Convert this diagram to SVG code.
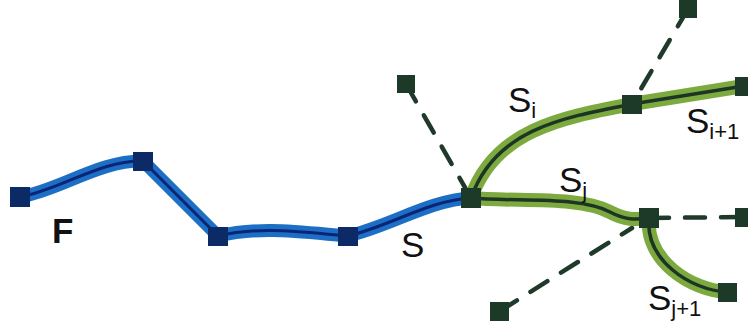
<svg xmlns="http://www.w3.org/2000/svg" width="748" height="329" viewBox="0 0 748 329">
  <style>
    .blue-out { fill: none; stroke: #1d6fc6; stroke-width: 13; stroke-linejoin: round; stroke-linecap: round; }
    .blue-in { fill: none; stroke: #0a2575; stroke-width: 3; stroke-linejoin: round; }
    .green-out { fill: none; stroke: #7daa3e; stroke-width: 14; stroke-linejoin: round; stroke-linecap: round; }
    .green-in { fill: none; stroke: #1c3524; stroke-width: 3.5; stroke-linejoin: round; }
    .dash { fill: none; stroke: #1f3a2a; stroke-width: 4.5; stroke-dasharray: 20 16; stroke-linecap: round; }
    .nb { fill: #0b2a66; }
    .ng { fill: #1d3a29; }
    .lbl { font-family: "Liberation Sans", Arial, sans-serif; fill: #111; font-size: 35px; }
    .sub { font-size: 22px; }
  </style>

  <g id="connectors">
    <!-- dashed links -->
    <path class="dash" d="M406,84 L471,198"/>
    <path class="dash" d="M688,9 L632,104"/>
    <path class="dash" d="M649,218 L744,217"/>
    <path class="dash" d="M500,311 L632,228"/>

    <!-- F / S blue segment -->
    <path class="blue-out" d="M20,197 C60,190 100,160 143,161 L218,236 C260,226 300,232 348,236 C390,226 430,200 471,198"/>
    <path class="blue-in" d="M20,197 C60,190 100,160 143,161 L218,236 C260,226 300,232 348,236 C390,226 430,200 471,198"/>

    <!-- Si, Si+1 -->
    <path class="green-out" d="M471,198 C495,130 560,118 632,104 L744,86"/>
    <path class="green-in" d="M471,198 C495,130 560,118 632,104 L744,86"/>

    <!-- Sj -->
    <path class="green-out" d="M471,198 C520,202 580,196 610,212 C625,220 635,220 649,218"/>
    <path class="green-in" d="M471,198 C520,202 580,196 610,212 C625,220 635,220 649,218"/>

    <!-- Sj+1 -->
    <path class="green-out" d="M649,218 C645,260 690,290 727,292"/>
    <path class="green-in" d="M649,218 C645,260 690,290 727,292"/>
  </g>

  <g id="n1"><rect class="nb" x="10" y="187" width="20" height="20"/></g>
  <g id="n2"><rect class="nb" x="133" y="152" width="20" height="19"/></g>
  <g id="n3"><rect class="nb" x="208" y="227" width="20" height="19"/></g>
  <g id="n4"><rect class="nb" x="338" y="227" width="20" height="19"/></g>
  <g id="n5"><rect class="ng" x="461" y="188" width="20" height="20"/></g>
  <g id="n6"><rect class="ng" x="397" y="75" width="18" height="18"/></g>
  <g id="n7"><rect class="ng" x="622" y="95" width="20" height="19"/></g>
  <g id="n8"><rect class="ng" x="679" y="0" width="18" height="18"/></g>
  <g id="n9"><rect class="ng" x="735" y="77" width="18" height="19"/></g>
  <g id="n10"><rect class="ng" x="639" y="208" width="20" height="20"/></g>
  <g id="n11"><rect class="ng" x="735" y="208" width="18" height="19"/></g>
  <g id="n12"><rect class="ng" x="490" y="302" width="19" height="19"/></g>
  <g id="n13"><rect class="ng" x="718" y="283" width="19" height="19"/></g>

  <g id="labels">
    <text class="lbl" x="52" y="243" font-weight="bold">F</text>
    <text class="lbl" x="401" y="257">S</text>
    <text class="lbl" x="508" y="112">S<tspan class="sub" dy="6">i</tspan></text>
    <text class="lbl" x="686" y="133">S<tspan class="sub" dy="6">i+1</tspan></text>
    <text class="lbl" x="559" y="192">S<tspan class="sub" dy="6">j</tspan></text>
    <text class="lbl" x="648" y="310">S<tspan class="sub" dy="6">j+1</tspan></text>
  </g>
</svg>
